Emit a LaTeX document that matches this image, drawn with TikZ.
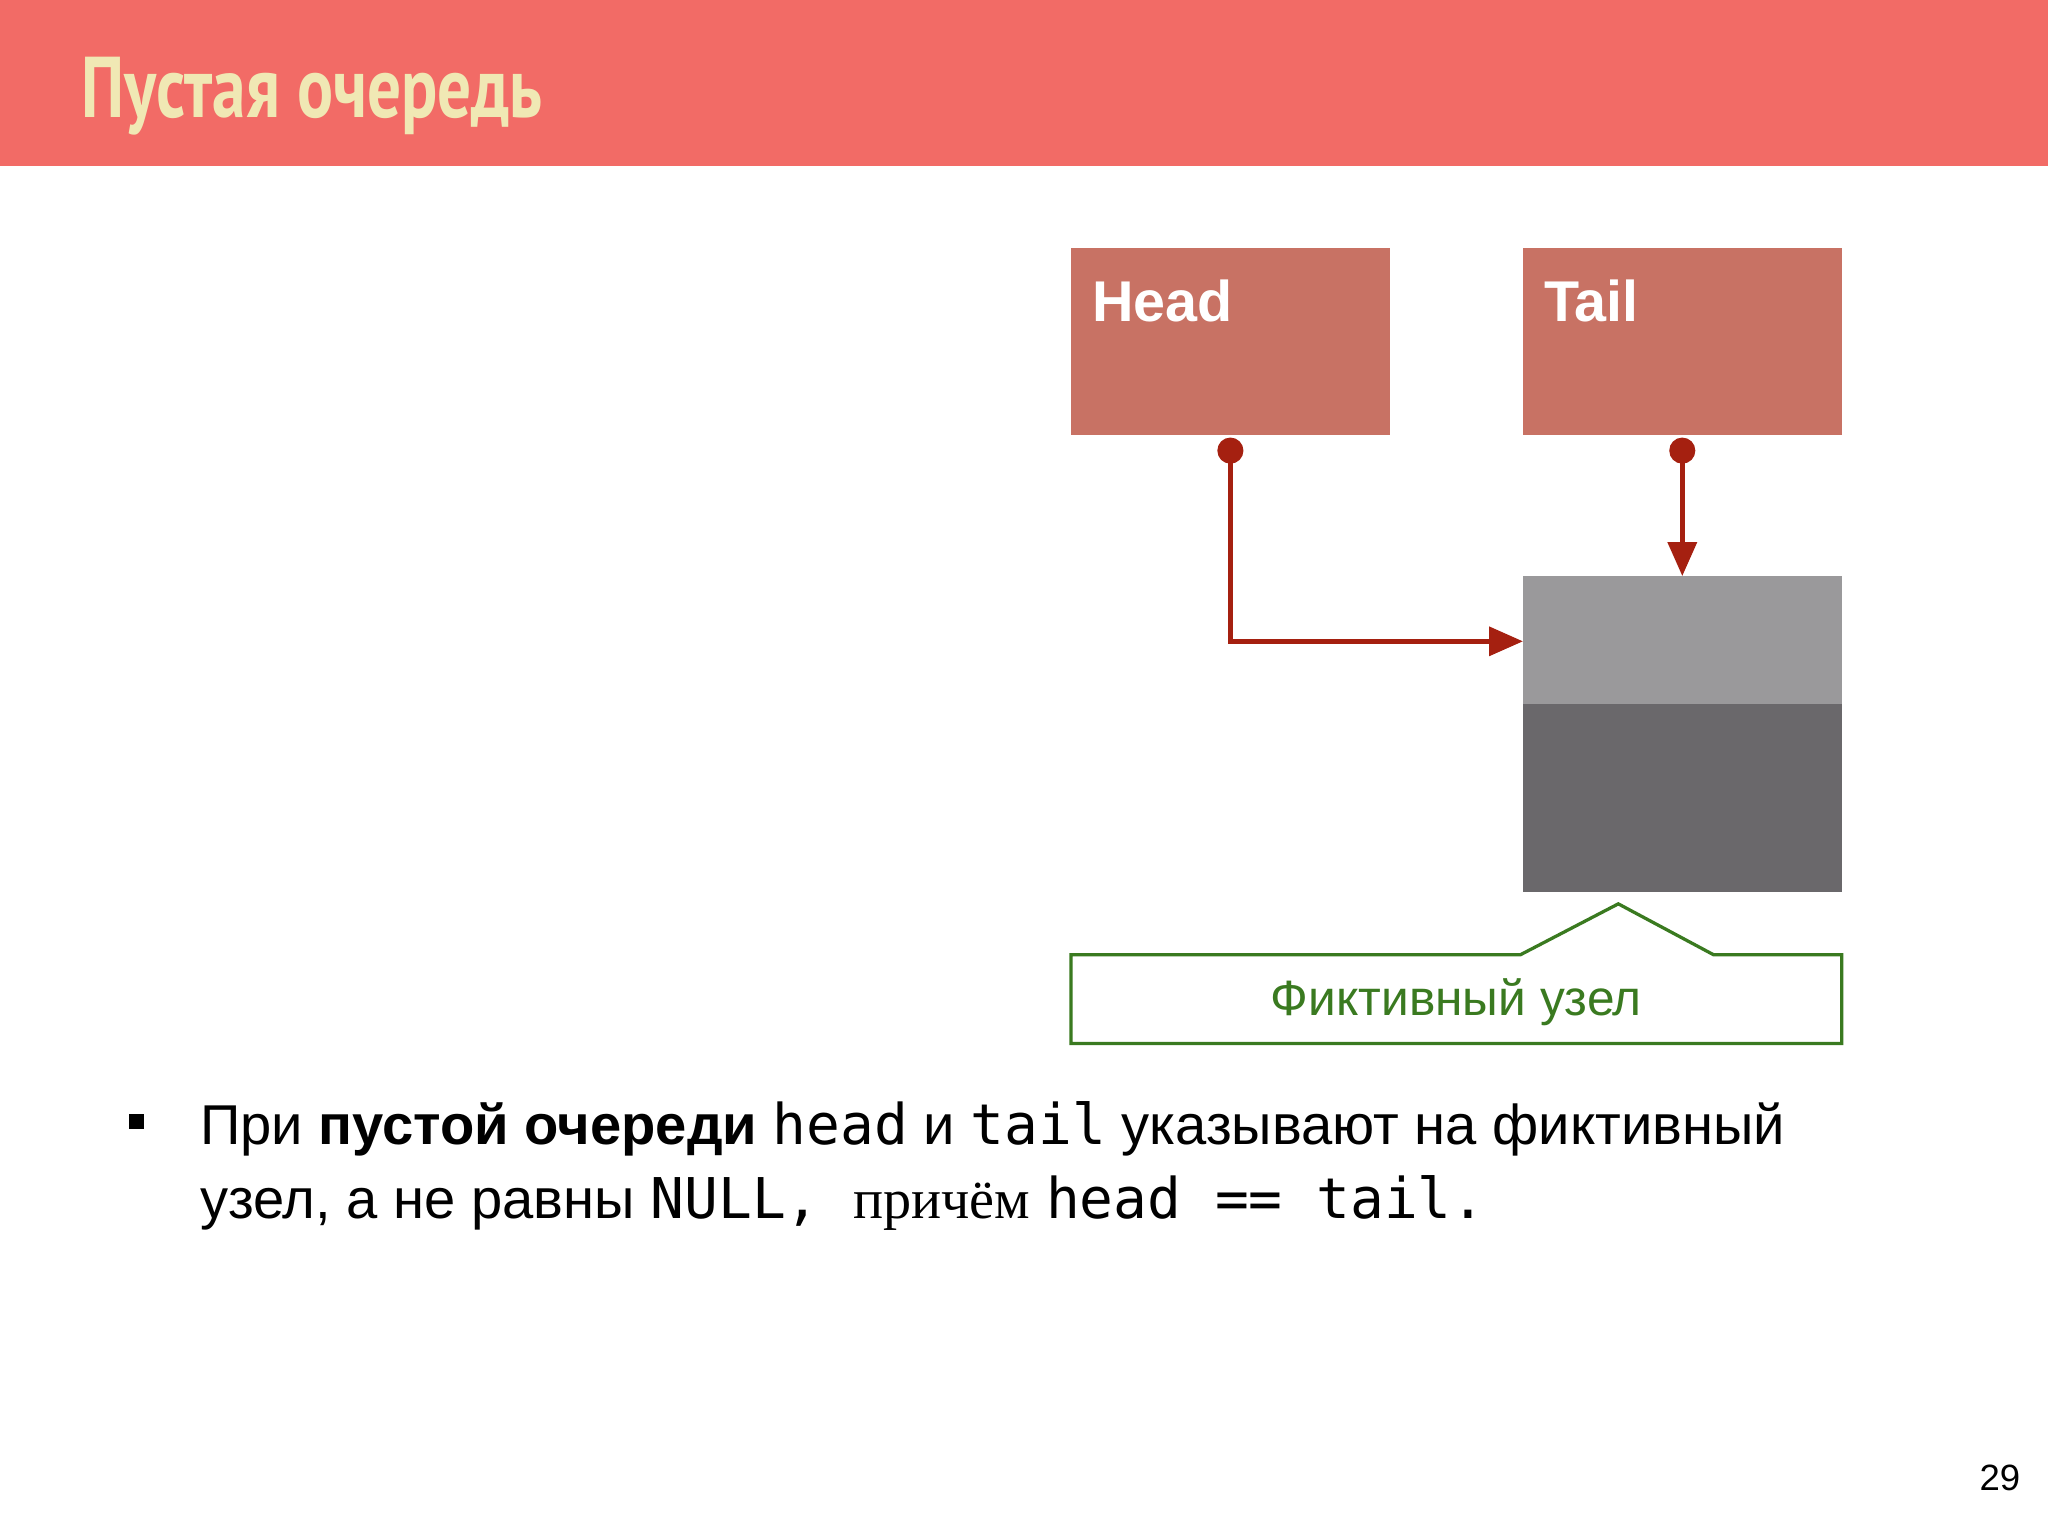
\documentclass[tikz,border=0pt]{standalone}
\usepackage{fontspec}
\setmainfont{Liberation Sans}
\newfontfamily\monof{DejaVu Sans Mono}
\newfontfamily\serf{Liberation Serif}
\newfontfamily\titf{PT Sans}
\usetikzlibrary{arrows.meta}
\definecolor{bar}{HTML}{F26B66}
\definecolor{cream}{HTML}{F0E8B4}
\definecolor{boxc}{HTML}{C87264}
\definecolor{ptr}{HTML}{A52010}
\definecolor{lg}{HTML}{9A999B}
\definecolor{dg}{HTML}{6A686B}
\definecolor{gr}{HTML}{3A7A20}
\tikzset{ptrline/.style={draw=ptr,line width=3.5pt,-{Triangle[length=26pt,width=22pt]}},
dotc/.style={circle,fill=ptr,inner sep=0pt,minimum size=20pt},
lbl/.style={anchor=base west,text=white,font=\fontsize{44}{50}\selectfont\bfseries,inner sep=0pt}}
\begin{document}
\begin{tikzpicture}[x=1pt,y=-1pt]
\useasboundingbox (0,0) rectangle (1568,1176);
\fill[white] (0,0) rectangle (1568,1176);
\fill[bar] (0,0) rectangle (1568,127);
\node[anchor=base west,inner sep=0pt,text=cream] (title) at (62,90) {\titf\bfseries\fontsize{66}{70}\selectfont\scalebox{0.78}[1]{Пустая очередь}};
\fill[boxc] (820,190) rectangle (1064,333);
\fill[boxc] (1166,190) rectangle (1410,333);
\node[lbl] (head) at (836,246) {Head};
\node[lbl] (tail) at (1182,246) {Tail};
\fill[lg] (1166,441) rectangle (1410,539);
\fill[dg] (1166,539) rectangle (1410,683);
\coordinate (dl) at (1166,491);
\coordinate (dt) at (1288,441);
\node[dotc] (hd) at (942,345) {};
\node[dotc] (td) at (1288,345) {};
\draw[ptrline] (hd.center) |- (dl);
\draw[ptrline] (td.center) -- (dt);
\draw[gr,line width=2.5pt] (1164,731) -- (1239,692) -- (1312,731) -- (1410,731) -- (1410,799) -- (820,799) -- (820,731) -- cycle;
\node[text=gr,font=\fontsize{38}{42}\selectfont] (fict) at (1115,767) {Фиктивный узел};
\fill (99,853) rectangle (110,864);
\node[anchor=base west,inner sep=0pt,font=\fontsize{43}{48}\selectfont] (l1) at (153,876) {При \textbf{пустой очереди} {\monof head} и {\monof tail} указывают на фиктивный};
\node[anchor=base west,inner sep=0pt,font=\fontsize{43}{48}\selectfont] (l2) at (153,933) {узел, а не равны {\monof NULL, }{\serf причём} {\monof head == tail.}};
\node[anchor=base east,inner sep=0pt,font=\fontsize{28}{30}\selectfont] (pg) at (1547,1141) {29};
\end{tikzpicture}
\end{document}
